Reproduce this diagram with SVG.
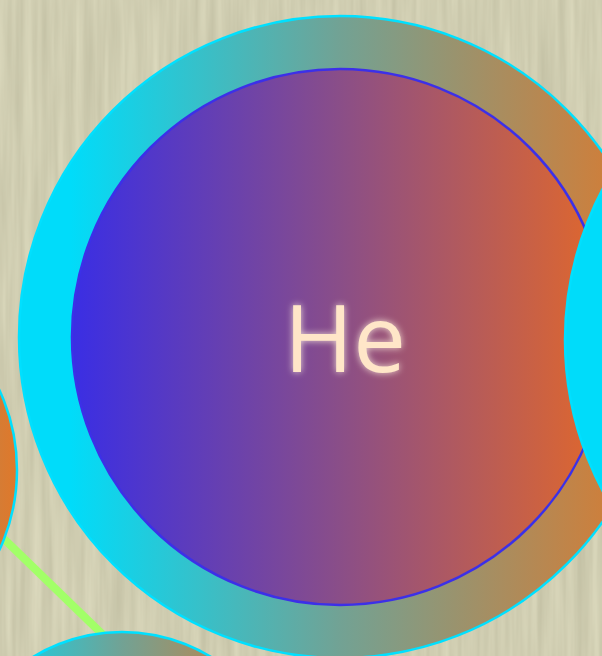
<svg xmlns="http://www.w3.org/2000/svg" width="602" height="656" viewBox="0 0 602 656">
  <defs>
    <filter id="paper" x="0" y="0" width="100%" height="100%" color-interpolation-filters="sRGB">
      <feTurbulence type="fractalNoise" baseFrequency="0.12 0.006" numOctaves="3" seed="4" result="n"/>
      <feColorMatrix in="n" type="matrix" values="0.12 0 0 0 0.755  0.12 0 0 0 0.745  0.12 0 0 0 0.635  0 0 0 0 1"/>
    </filter>
    <linearGradient id="ring" x1="0" y1="0" x2="1" y2="0">
      <stop offset="0" stop-color="#00dcfa"/>
      <stop offset="0.08" stop-color="#00dcfa"/>
      <stop offset="0.5" stop-color="#72a294"/>
      <stop offset="1" stop-color="#e0782a"/>
    </linearGradient>
    <linearGradient id="core" x1="0" y1="0" x2="1" y2="0">
      <stop offset="0" stop-color="#3a2ee4"/>
      <stop offset="0.5" stop-color="#8a4e88"/>
      <stop offset="1" stop-color="#e2682a"/>
    </linearGradient>
    <filter id="glow" x="-30%" y="-30%" width="160%" height="160%" color-interpolation-filters="sRGB">
      <feGaussianBlur in="SourceAlpha" stdDeviation="3.5" result="b"/>
      <feFlood flood-color="#fff4e0" flood-opacity="0.85"/>
      <feComposite in2="b" operator="in" result="g"/>
      <feMerge><feMergeNode in="g"/><feMergeNode in="SourceGraphic"/></feMerge>
    </filter>
  </defs>
  <style>
    .ring { fill: url(#ring); stroke: #00e0ff; stroke-width: 2.5; }
    .core { fill: url(#core); stroke: #3c30e8; stroke-width: 2.5; }
    .edge { stroke: #a2ff68; stroke-width: 8; fill: none; }
    .label { font-family: "Open Sans", "Noto Sans", sans-serif; font-size: 94px; fill: #ffe6c8; text-anchor: middle; }
  </style>
  <rect width="602" height="656" fill="#cfcdb1"/>
  <rect width="602" height="656" filter="url(#paper)"/>
  <g id="connectors">
    <line class="edge" x1="-60" y1="477" x2="160" y2="690"/>
  </g>
  <g id="node-left">
    <circle class="ring" cx="-173" cy="470" r="190"/>
  </g>
  <g id="node-bottom">
    <circle class="ring" cx="122" cy="803" r="171"/>
  </g>
  <g id="node-he">
    <circle class="ring" cx="340" cy="337" r="321"/>
    <circle class="core" cx="340" cy="337" r="268"/>
    <text class="label" x="345" y="372" filter="url(#glow)">He</text>
  </g>
  <g id="node-right">
    <circle class="ring" cx="886" cy="340" r="321"/>
    <circle class="core" cx="886" cy="340" r="268"/>
  </g>
</svg>
